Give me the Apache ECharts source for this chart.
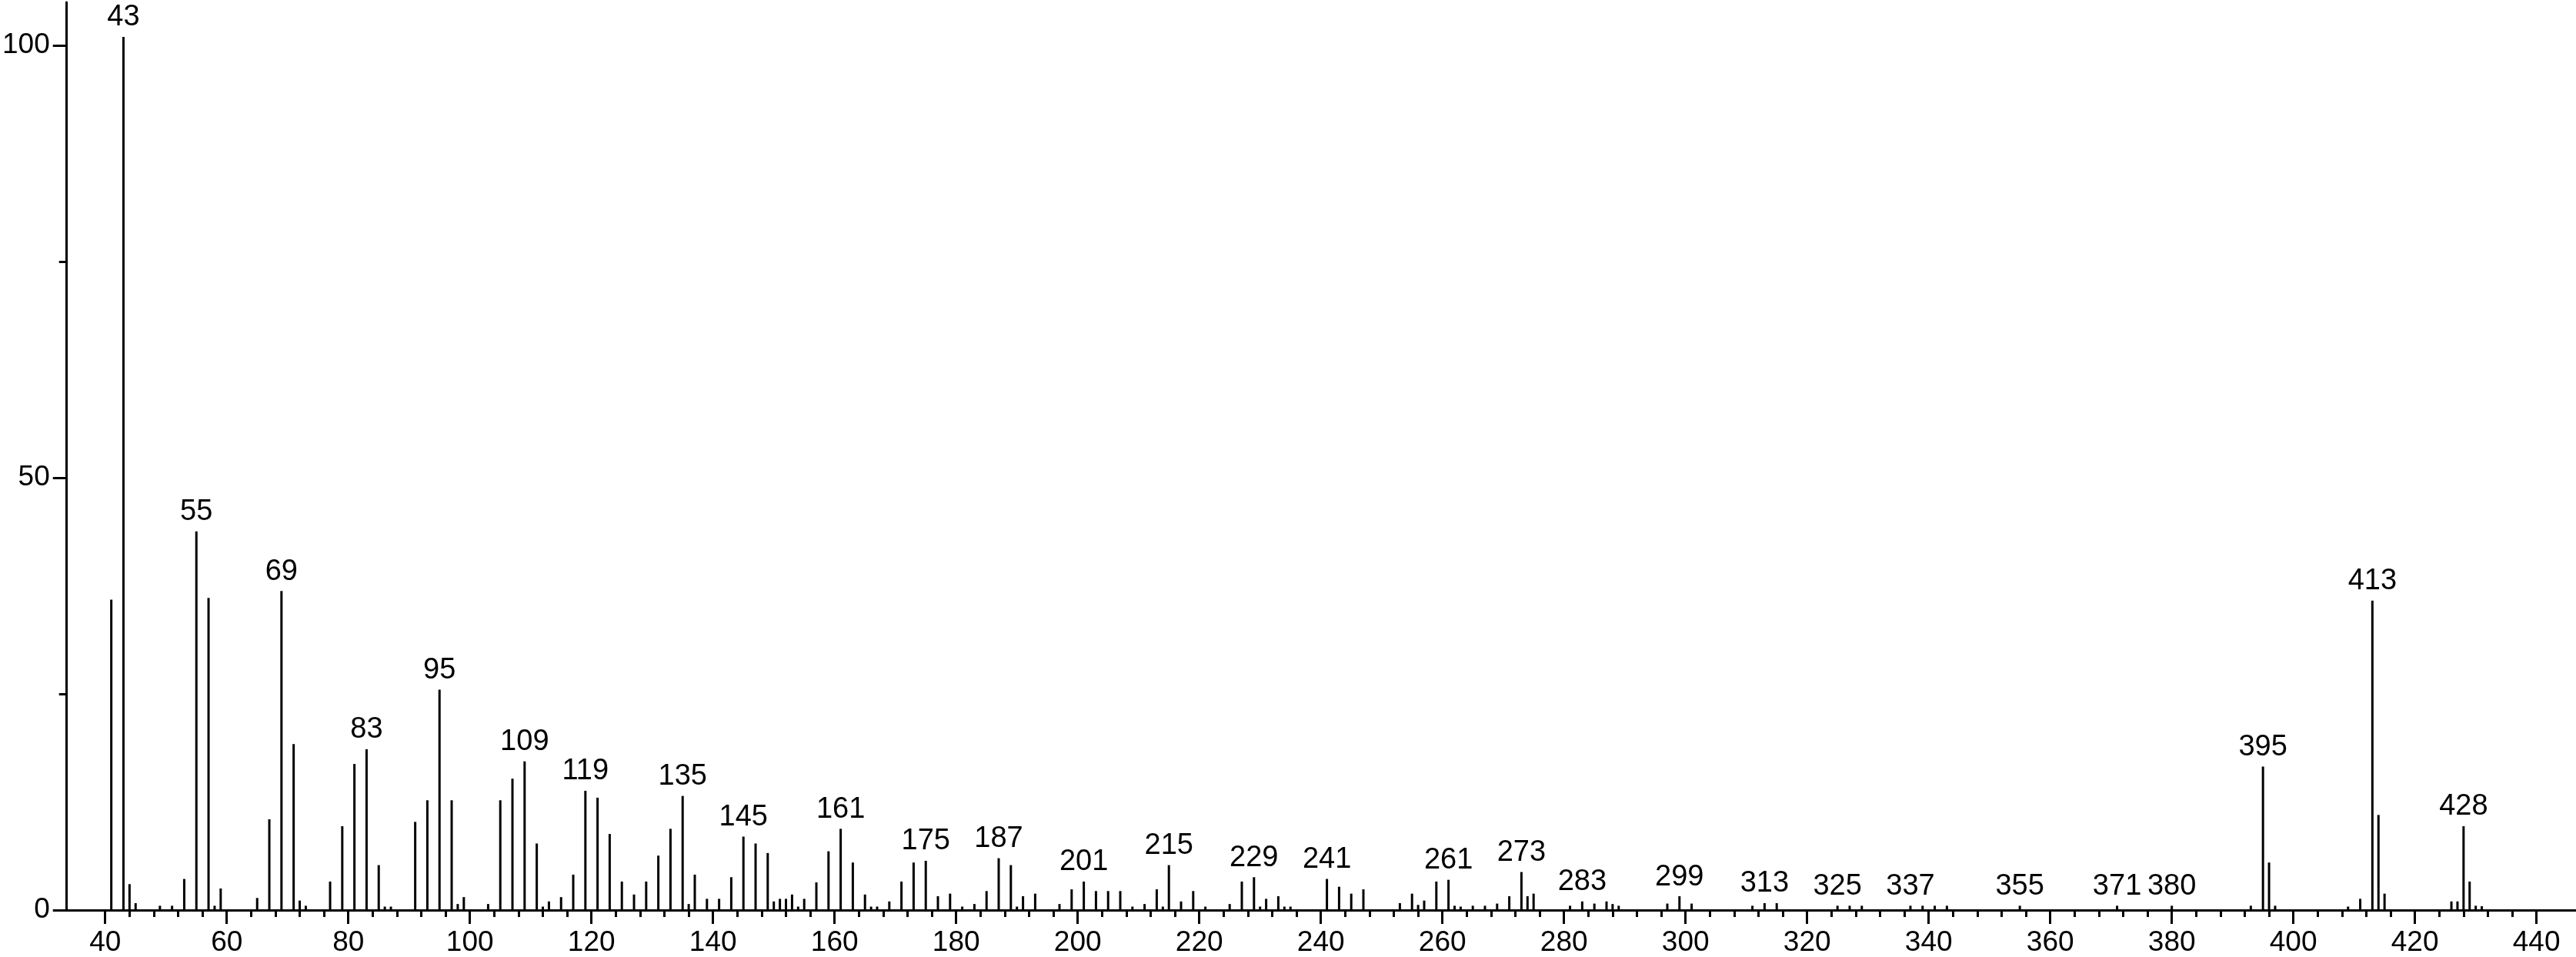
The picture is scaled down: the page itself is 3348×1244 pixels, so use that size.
<!DOCTYPE html>
<html><head><meta charset="utf-8">
<script src="https://cdn.jsdelivr.net/npm/echarts@6/dist/echarts.min.js"></script>
<style>html,body{margin:0;padding:0;background:#fff}#c{width:3348px;height:1244px}</style>
</head><body><div id="c"></div>
<script>
// m/z values of the peaks
const mz = [41,43,44,45,49,51,53,55,57,58,59,65,67,69,71,72,73,77,79,81,83,85,86,87,91,93,95,97,98,99,
  103,105,107,109,111,112,113,115,117,119,121,123,125,127,129,131,133,135,136,137,139,141,143,145,147,149,
  150,151,152,153,154,155,157,159,161,163,165,166,167,169,171,173,175,177,179,181,183,185,187,189,190,191,193,
  197,199,201,203,205,207,209,211,213,214,215,217,219,221,225,227,229,230,231,233,234,235,241,243,245,247,
  253,255,256,257,259,261,262,263,265,267,269,271,273,274,275,281,283,285,287,288,289,297,299,301,
  311,313,315,325,327,329,337,339,341,343,355,371,380,393,395,396,397,409,411,413,414,415,426,427,428,429,430,431];
// relative intensities (%)
const intensity = [35.9,101,3.0,0.8,0.5,0.5,3.6,43.8,36.1,0.5,2.5,1.4,10.5,36.9,19.2,1.1,0.5,3.3,9.7,16.9,18.6,5.2,0.4,0.4,10.2,12.7,25.5,12.7,0.7,1.5,
  0.7,12.7,15.2,17.2,7.7,0.4,1.0,1.5,4.1,13.8,13.0,8.8,3.3,1.8,3.3,6.3,9.4,13.2,0.7,4.1,1.3,1.3,3.8,8.5,7.7,6.6,
  1.0,1.3,1.3,1.8,0.4,1.3,3.2,6.8,9.4,5.5,1.8,0.4,0.4,1.0,3.3,5.5,5.7,1.6,1.9,0.4,0.7,2.2,6.0,5.2,0.4,1.6,1.9,
  0.7,2.4,3.3,2.2,2.2,2.2,0.4,0.7,2.4,0.4,5.2,1.0,2.2,0.4,0.7,3.3,3.8,0.4,1.3,1.6,0.4,0.4,3.6,2.7,1.9,2.4,
  0.8,1.9,0.6,1.1,3.3,3.5,0.5,0.4,0.5,0.5,0.75,1.6,4.4,1.6,1.9,0.5,1.0,0.75,1.0,0.7,0.5,0.75,1.6,0.75,
  0.5,0.8,0.8,0.5,0.5,0.5,0.5,0.5,0.5,0.5,0.5,0.5,0.5,0.5,16.6,5.5,0.5,0.4,1.3,35.8,11.0,1.9,1.0,1.0,9.7,3.3,0.5,0.45];
// peaks carrying an m/z annotation
const labeledMz = [43,55,69,83,95,109,119,135,145,161,175,187,201,215,229,241,261,273,283,299,313,325,337,355,371,380,395,413,428];
// axis tick labels / tick positions
const xTickLabels = [40,60,80,100,120,140,160,180,200,220,240,260,280,300,320,340,360,380,400,420,440];
const xMinorTicks = [44,48,52,56,64,68,72,76,84,88,92,96,104,108,112,116,124,128,132,136,144,148,152,156,
  164,168,172,176,184,188,192,196,204,208,212,216,224,228,232,236,244,248,252,256,264,268,272,276,
  284,288,292,296,304,308,312,316,324,328,332,336,344,348,352,356,364,368,372,376,384,388,392,396,
  404,408,412,416,424,428,432,436];
const yTickLabels = [0,50,100];
const yMinorTicks = [25,75];

const FONT = 'Liberation Sans';
const X_MIN = 33.67, X_MAX = 446.5, Y_MIN = 0, Y_MAX = 105;
const lineSty = {color:'#000', width:3};

const data = mz.map((m,i)=>({
  value:[m, intensity[i]],
  label:{show: labeledMz.indexOf(m) >= 0}
}));

const chart = echarts.init(document.getElementById('c'), null, {renderer:'canvas'});
chart.setOption({
  animation:false,
  backgroundColor:'#fff',
  grid:{left:85, right:0, top:3, bottom:60, containLabel:false},
  xAxis:[
    {type:'value', min:X_MIN, max:X_MAX, position:'bottom',
     axisLine:{show:true, onZero:false, lineStyle:lineSty},
     axisTick:{show:true, customValues:xTickLabels, length:18, lineStyle:lineSty},
     axisLabel:{show:true, customValues:xTickLabels, margin:24, fontSize:37, color:'#000', fontFamily:FONT},
     splitLine:{show:false}},
    {type:'value', min:X_MIN, max:X_MAX, position:'bottom', offset:0,
     axisLine:{show:false, onZero:false},
     axisTick:{show:true, customValues:xMinorTicks, length:9, lineStyle:lineSty},
     axisLabel:{show:false},
     splitLine:{show:false}}
  ],
  yAxis:[
    {type:'value', min:Y_MIN, max:Y_MAX, position:'left',
     axisLine:{show:true, onZero:false, lineStyle:lineSty},
     axisTick:{show:true, customValues:yTickLabels, length:18, lineStyle:lineSty},
     axisLabel:{show:true, customValues:yTickLabels, margin:22, fontSize:37, color:'#000', fontFamily:FONT},
     splitLine:{show:false}},
    {type:'value', min:Y_MIN, max:Y_MAX, position:'left', offset:0,
     axisLine:{show:false, onZero:false},
     axisTick:{show:true, customValues:yMinorTicks, length:10, lineStyle:lineSty},
     axisLabel:{show:false},
     splitLine:{show:false}}
  ],
  series:[{
    type:'bar', xAxisIndex:0, yAxisIndex:0, barWidth:3,
    itemStyle:{color:'#000'},
    label:{show:false, position:'top', distance:6, fontSize:38, color:'#000', fontFamily:FONT,
      formatter:p=>String(p.value[0])},
    data:data
  }]
});
</script></body></html>
